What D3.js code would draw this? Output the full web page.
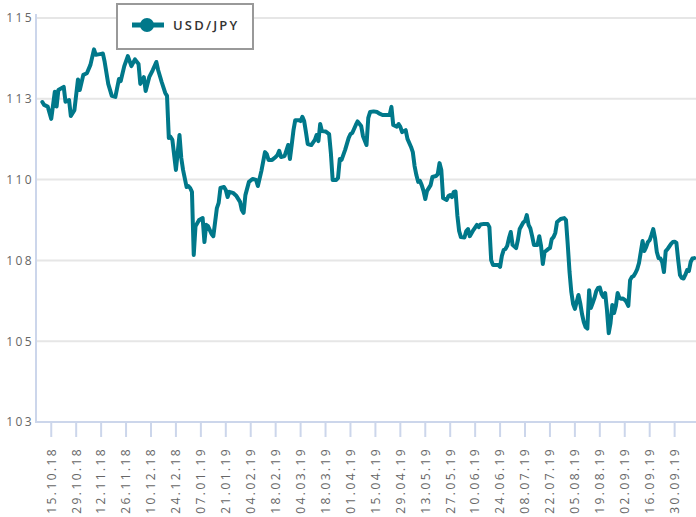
<!DOCTYPE html>
<meta charset="utf-8">
<style>

body {
  margin: 0;
  background: #fff;
  font-family: "Open Sans", "DejaVu Sans", sans-serif;
}

.grid line { stroke: #e6e6e6; stroke-width: 2px; }
.axis-line { stroke: #ccd6eb; stroke-width: 2px; }
.tick-mark { stroke: #ccd6eb; stroke-width: 2px; }
.label { fill: #666; font-size: 12px; letter-spacing: 2.4px; }
.rate { fill: none; stroke: #00788a; stroke-width: 4px; stroke-linejoin: round; stroke-linecap: round; }
.legend rect { fill: #fff; stroke: #999; stroke-width: 2px; }
.legend text { fill: #333; font-size: 13px; font-weight: 600; letter-spacing: 2.2px; }

</style>
<svg width="696" height="517"></svg>
<script src="https://cdnjs.cloudflare.com/ajax/libs/d3/7.8.5/d3.min.js"></script>
<script>

var seriesName = "USD/JPY";

var dates = [
  "10.10.18","11.10.18","13.10.18","15.10.18","17.10.18","18.10.18","19.10.18","22.10.18","23.10.18","25.10.18",
  "26.10.18","28.10.18","30.10.18","31.10.18","02.11.18","04.11.18","06.11.18","08.11.18","09.11.18","12.11.18",
  "13.11.18","14.11.18","16.11.18","18.11.18","20.11.18","22.11.18","23.11.18","25.11.18","27.11.18","29.11.18",
  "01.12.18","03.12.18","04.12.18","06.12.18","07.12.18","09.12.18","11.12.18","13.12.18","14.12.18","16.12.18",
  "18.12.18","19.12.18","20.12.18","21.12.18","22.12.18","23.12.18","24.12.18","26.12.18","27.12.18","28.12.18",
  "30.12.18","31.12.18","01.01.19","02.01.19","03.01.19","04.01.19","06.01.19","07.01.19","08.01.19","09.01.19",
  "10.01.19","11.01.19","13.01.19","14.01.19","16.01.19","17.01.19","18.01.19","20.01.19","21.01.19","22.01.19",
  "23.01.19","25.01.19","27.01.19","29.01.19","30.01.19","31.01.19","01.02.19","03.02.19","05.02.19","07.02.19",
  "08.02.19","10.02.19","12.02.19","13.02.19","14.02.19","16.02.19","18.02.19","19.02.19","20.02.19","21.02.19",
  "23.02.19","25.02.19","26.02.19","27.02.19","28.02.19","01.03.19","03.03.19","04.03.19","05.03.19","06.03.19",
  "07.03.19","08.03.19","10.03.19","12.03.19","13.03.19","14.03.19","15.03.19","16.03.19","18.03.19","20.03.19",
  "21.03.19","22.03.19","24.03.19","25.03.19","26.03.19","27.03.19","29.03.19","31.03.19","01.04.19","02.04.19",
  "04.04.19","05.04.19","07.04.19","08.04.19","10.04.19","11.04.19","12.04.19","14.04.19","16.04.19","17.04.19",
  "19.04.19","21.04.19","23.04.19","24.04.19","25.04.19","27.04.19","28.04.19","29.04.19","30.04.19","02.05.19",
  "03.05.19","05.05.19","06.05.19","07.05.19","08.05.19","09.05.19","10.05.19","11.05.19","12.05.19","13.05.19",
  "14.05.19","16.05.19","17.05.19","19.05.19","20.05.19","21.05.19","22.05.19","23.05.19","25.05.19","26.05.19",
  "27.05.19","28.05.19","29.05.19","30.05.19","31.05.19","01.06.19","02.06.19","04.06.19","05.06.19","06.06.19",
  "07.06.19","09.06.19","11.06.19","12.06.19","13.06.19","15.06.19","17.06.19","18.06.19","19.06.19","20.06.19",
  "23.06.19","24.06.19","25.06.19","26.06.19","27.06.19","28.06.19","29.06.19","30.06.19","01.07.19","03.07.19",
  "04.07.19","05.07.19","07.07.19","08.07.19","09.07.19","10.07.19","11.07.19","12.07.19","13.07.19","15.07.19",
  "16.07.19","17.07.19","18.07.19","19.07.19","21.07.19","22.07.19","23.07.19","24.07.19","25.07.19","26.07.19",
  "28.07.19","30.07.19","31.07.19","01.08.19","02.08.19","03.08.19","04.08.19","05.08.19","06.08.19","07.08.19",
  "08.08.19","09.08.19","10.08.19","11.08.19","12.08.19","13.08.19","14.08.19","15.08.19","16.08.19","17.08.19",
  "18.08.19","19.08.19","20.08.19","21.08.19","22.08.19","23.08.19","24.08.19","25.08.19","26.08.19","27.08.19",
  "28.08.19","29.08.19","30.08.19","31.08.19","01.09.19","02.09.19","03.09.19","04.09.19","05.09.19","06.09.19",
  "07.09.19","08.09.19","09.09.19","10.09.19","11.09.19","12.09.19","13.09.19","14.09.19","15.09.19","16.09.19",
  "17.09.19","18.09.19","19.09.19","20.09.19","21.09.19","22.09.19","23.09.19","24.09.19","25.09.19","26.09.19",
  "27.09.19","28.09.19","29.09.19","30.09.19","01.10.19","02.10.19","03.10.19","04.10.19","05.10.19","06.10.19",
  "07.10.19","08.10.19","09.10.19","10.10.19","11.10.19"
];

var rates = [
  112.40,112.31,112.26,111.88,112.72,112.26,112.77,112.87,112.41,112.46,
  111.97,112.15,113.10,112.77,113.24,113.29,113.55,114.03,113.86,113.89,
  113.90,113.64,112.96,112.59,112.56,113.11,113.05,113.51,113.82,113.51,
  113.72,113.58,112.96,113.17,112.74,113.17,113.39,113.64,113.39,113.02,
  112.68,112.59,111.29,111.32,111.23,110.76,110.30,111.38,110.67,110.30,
  109.77,109.80,109.74,109.62,107.67,108.56,108.75,108.78,108.81,108.07,
  108.60,108.56,108.32,108.25,109.12,109.28,109.74,109.77,109.68,109.46,
  109.62,109.59,109.49,109.31,109.06,108.97,109.52,109.93,110.02,109.99,
  109.80,110.27,110.85,110.79,110.61,110.61,110.70,110.76,110.89,110.70,
  110.73,111.07,110.64,111.07,111.53,111.84,111.84,111.81,111.94,111.81,
  111.47,111.10,111.07,111.23,111.38,111.19,111.72,111.50,111.49,111.41,
  110.82,109.99,109.99,110.05,110.64,110.61,110.92,111.29,111.41,111.44,
  111.69,111.80,111.66,111.35,111.07,111.91,112.09,112.11,112.09,112.05,
  112.00,112.00,112.00,112.25,111.69,111.64,111.72,111.63,111.47,111.53,
  111.26,111.01,110.85,110.42,110.14,109.93,109.96,109.83,109.65,109.40,
  109.65,109.83,110.08,110.11,110.17,110.51,110.30,109.43,109.37,109.49,
  109.52,109.46,109.62,109.63,108.90,108.41,108.22,108.21,108.41,108.47,
  108.25,108.44,108.60,108.53,108.61,108.63,108.63,108.53,107.51,107.36,
  107.36,107.30,107.64,107.82,107.85,107.95,108.19,108.38,107.98,107.88,
  108.13,108.47,108.67,108.72,108.90,108.60,108.49,108.25,107.98,107.98,
  108.25,107.95,107.39,107.76,107.85,107.88,108.16,108.22,108.35,108.69,
  108.78,108.81,108.75,107.98,107.14,106.52,106.15,106.00,106.21,106.43,
  106.18,105.84,105.59,105.44,105.39,106.58,106.03,106.18,106.34,106.55,
  106.65,106.66,106.46,106.37,106.49,105.97,105.25,105.56,106.12,105.87,
  106.09,106.49,106.34,106.31,106.32,106.28,106.21,106.09,106.89,106.99,
  107.02,107.11,107.23,107.42,107.76,108.10,107.79,107.91,108.07,108.13,
  108.29,108.47,108.19,107.76,107.57,107.56,107.45,107.14,107.79,107.85,
  107.93,108.01,108.07,108.08,108.04,107.51,107.05,106.96,106.94,107.05,
  107.20,107.17,107.45,107.56,107.57
];

var yTicks = [102.5, 105, 107.5, 110, 112.5, 115];

var xTickLabels = [
  "15.10.18","29.10.18","12.11.18","26.11.18","10.12.18","24.12.18","07.01.19","21.01.19","04.02.19",
  "18.02.19","04.03.19","18.03.19","01.04.19","15.04.19","29.04.19","13.05.19","27.05.19","10.06.19",
  "24.06.19","08.07.19","22.07.19","05.08.19","19.08.19","02.09.19","16.09.19","30.09.19"
];

var parse = d3.timeParse("%d.%m.%y");

var data = dates.map(function(d, i) { return {date: parse(d), value: rates[i]}; });

var margin = {left: 36, right: 696, top: 18, bottom: 422};

var x = d3.scaleTime()
    .domain([parse("07.10.18"), parse("12.10.19")])
    .range([margin.left + 1, margin.right]);

var y = d3.scaleLinear()
    .domain([102.5, 115])
    .range([margin.bottom, margin.top]);

var svg = d3.select("svg");

// horizontal grid
svg.append("g")
    .attr("class", "grid")
  .selectAll("line")
    .data(yTicks)
  .enter().append("line")
    .attr("x1", margin.left)
    .attr("x2", margin.right)
    .attr("y1", function(d) { return y(d); })
    .attr("y2", function(d) { return y(d); });

// y labels (rounded like the original)
svg.append("g")
  .selectAll("text")
    .data(yTicks)
  .enter().append("text")
    .attr("class", "label")
    .attr("x", margin.left - 2)
    .attr("y", function(d) { return y(d); })
    .attr("dy", "0.36em")
    .style("text-anchor", "end")
    .text(function(d) { return Math.round(d); });

// axis lines
svg.append("line")
    .attr("class", "axis-line")
    .attr("x1", margin.left).attr("x2", margin.left)
    .attr("y1", margin.top - 4).attr("y2", margin.bottom);

svg.append("line")
    .attr("class", "axis-line")
    .attr("x1", margin.left - 1).attr("x2", margin.right)
    .attr("y1", margin.bottom).attr("y2", margin.bottom);

// x ticks and labels
var xt = svg.append("g")
  .selectAll("g")
    .data(xTickLabels)
  .enter().append("g")
    .attr("transform", function(d) { return "translate(" + x(parse(d)) + ",0)"; });

xt.append("line")
    .attr("class", "tick-mark")
    .attr("y1", margin.bottom)
    .attr("y2", margin.bottom + 15);

xt.append("text")
    .attr("class", "label")
    .attr("transform", "translate(0," + (margin.bottom + 25) + ") rotate(-90)")
    .attr("dy", "0.36em")
    .style("text-anchor", "end")
    .text(function(d) { return d; });

// series
var line = d3.line()
    .x(function(d) { return x(d.date); })
    .y(function(d) { return y(d.value); });

svg.append("path")
    .datum(data)
    .attr("class", "rate")
    .attr("d", line);

// legend
var legend = svg.append("g")
    .attr("class", "legend")
    .attr("transform", "translate(117,4)");

legend.append("rect")
    .attr("width", 136)
    .attr("height", 45);

legend.append("line")
    .attr("x1", 15).attr("x2", 47)
    .attr("y1", 21).attr("y2", 21)
    .style("stroke", "#00788a")
    .style("stroke-width", 5);

legend.append("circle")
    .attr("cx", 30)
    .attr("cy", 21)
    .attr("r", 7)
    .style("fill", "#00788a");

legend.append("text")
    .attr("x", 56)
    .attr("y", 21)
    .attr("dy", "0.36em")
    .text(seriesName);

</script>
